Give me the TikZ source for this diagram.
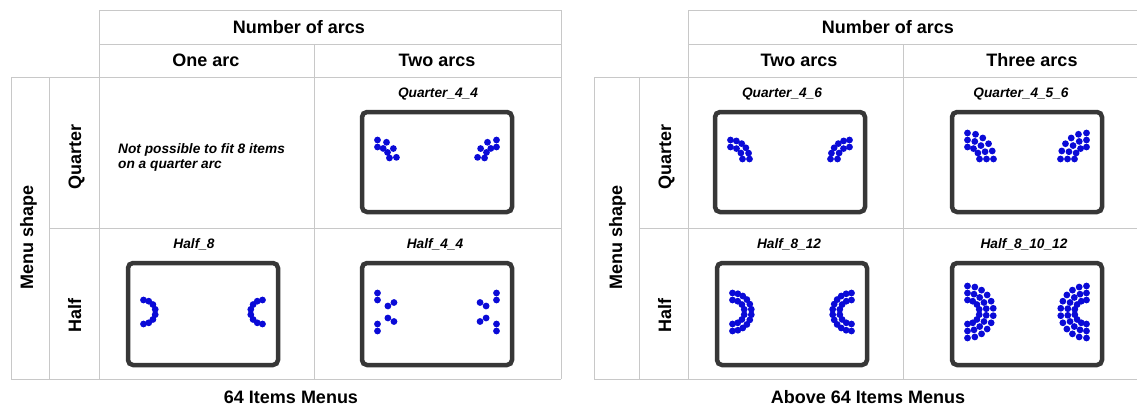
\documentclass[tikz,border=0pt]{standalone}
\usepackage{fontspec}
\setmainfont{Liberation Sans}
\usepackage{tikz}
\usetikzlibrary{positioning}
\definecolor{gridgray}{RGB}{200,200,200}
\definecolor{boxgray}{RGB}{55,55,55}
\definecolor{dotblue}{RGB}{10,10,215}
\tikzset{
  gridline/.style={draw=gridgray, line width=1pt},
  menubox/.style={draw=boxgray, line width=4.5pt, rounded corners=5pt},
  menudot/.style={fill=dotblue},
  headtext/.style={font=\bfseries\fontsize{18}{21}\selectfont},
  sidetext/.style={font=\bfseries\fontsize{18}{21}\selectfont, rotate=90, anchor=base},
  paneltext/.style={font=\bfseries\itshape\fontsize{13.7}{15}\selectfont, anchor=base}
}
% one arc of menu items: centre x, centre y, radius, items, first angle, last angle
\newcommand{\arcdots}[6]{%
  \foreach \i in {1,...,#4}{
    \pgfmathsetmacro{\ang}{#5+(\i-1)*(#6-#5)/(#4-1)}
    \fill[menudot] ({#1+#3*cos(\ang)},{#2-#3*sin(\ang)}) circle (3.4);
  }}

\begin{document}
\begin{tikzpicture}[x=1pt, y=-1pt]
  \useasboundingbox (0,0) rectangle (1137,410);

  % left table
  \draw[gridline] (99,10) -- (561,10);
  \draw[gridline] (99,44) -- (561,44);
  \draw[gridline] (11,77) -- (561,77);
  \draw[gridline] (49,228) -- (561,228);
  \draw[gridline] (11,379) -- (561,379);
  \foreach \x in {11,49} \draw[gridline] (\x,77) -- (\x,379);
  \foreach \x in {99,561} \draw[gridline] (\x,10) -- (\x,379);
  \draw[gridline] (314,44) -- (314,379);

  % right table
  \draw[gridline] (688,10) -- (1137,10);
  \draw[gridline] (688,44) -- (1137,44);
  \draw[gridline] (594,77) -- (1137,77);
  \draw[gridline] (639,228) -- (1137,228);
  \draw[gridline] (594,379) -- (1137,379);
  \foreach \x in {594,639} \draw[gridline] (\x,77) -- (\x,379);
  \draw[gridline] (688,10) -- (688,379);
  \draw[gridline] (903,44) -- (903,379);

  % headers
  \node[headtext] (numL) at (299,27) {Number of arcs};
  \node[headtext] (oneL) at (206,60) {One arc};
  \node[headtext] (twoL) at (437,60) {Two arcs};
  \node[sidetext] (shapeL) at (33,237) {Menu shape};
  \node[sidetext] (quarterL) at (81,157) {Quarter};
  \node[sidetext] (halfL) at (81,315) {Half};

  \node[headtext] (numR) at (888,27) {Number of arcs};
  \node[headtext] (twoR) at (799,60) {Two arcs};
  \node[headtext] (threeR) at (1032,60) {Three arcs};
  \node[sidetext] (shapeR) at (622,237) {Menu shape};
  \node[sidetext] (quarterR) at (671,157) {Quarter};
  \node[sidetext] (halfR) at (671,315) {Half};

  \node[headtext] (menus64) at (291,397) {64 Items Menus};
  \node[headtext] (menusabove) at (868,397) {Above 64 Items Menus};

  % one arc, quarter
  \node[paneltext, anchor=north west, align=left, inner sep=0pt] (notfit) at (118,143)
    {Not possible to fit 8 items\\on a quarter arc};

  % Quarter_4_4
  \node[paneltext] (q44) at (438,97) {Quarter\_4\_4};
  \draw[menubox] (362,112) rectangle (512,212);
  \arcdots{377.5}{159}{12}{4}{90}{5}
  \arcdots{377.5}{159}{19}{4}{90}{5}
  \arcdots{496.5}{159}{12}{4}{90}{175}
  \arcdots{496.5}{159}{19}{4}{90}{175}

  % Half_8
  \node[paneltext] (h8) at (194,248) {Half\_8};
  \draw[menubox] (128,263) rectangle (278,365);
  \arcdots{143.5}{312}{12}{8}{90}{-90}
  \arcdots{262.5}{312}{12}{8}{90}{270}

  % Half_4_4
  \node[paneltext] (h44) at (435,248) {Half\_4\_4};
  \draw[menubox] (362,263) rectangle (512,365);
  \arcdots{377.5}{312}{12}{4}{90}{-90}
  \arcdots{377.5}{312}{19}{4}{90}{-90}
  \arcdots{496.5}{312}{12}{4}{90}{270}
  \arcdots{496.5}{312}{19}{4}{90}{270}

  % Quarter_4_6
  \node[paneltext] (q46) at (782,97) {Quarter\_4\_6};
  \draw[menubox] (715,112) rectangle (865,212);
  \arcdots{730.5}{159}{12}{4}{90}{0}
  \arcdots{730.5}{159}{19}{6}{90}{0}
  \arcdots{849.5}{159}{12}{4}{90}{180}
  \arcdots{849.5}{159}{19}{6}{90}{180}

  % Quarter_4_5_6
  \node[paneltext] (q456) at (1021,97) {Quarter\_4\_5\_6};
  \draw[menubox] (952,112) rectangle (1102,212);
  \arcdots{967.5}{159}{12}{4}{90}{0}
  \arcdots{967.5}{159}{19}{5}{90}{0}
  \arcdots{967.5}{159}{26}{6}{90}{0}
  \arcdots{1086.5}{159}{12}{4}{90}{180}
  \arcdots{1086.5}{159}{19}{5}{90}{180}
  \arcdots{1086.5}{159}{26}{6}{90}{180}

  % Half_8_12
  \node[paneltext] (h812) at (789,248) {Half\_8\_12};
  \draw[menubox] (717,263) rectangle (867,365);
  \arcdots{732.5}{312}{12}{8}{90}{-90}
  \arcdots{732.5}{312}{19}{12}{90}{-90}
  \arcdots{851.5}{312}{12}{8}{90}{270}
  \arcdots{851.5}{312}{19}{12}{90}{270}

  % Half_8_10_12
  \node[paneltext] (h81012) at (1024,248) {Half\_8\_10\_12};
  \draw[menubox] (952,263) rectangle (1102,365);
  \arcdots{967.5}{312}{12}{8}{90}{-90}
  \arcdots{967.5}{312}{19}{10}{90}{-90}
  \arcdots{967.5}{312}{26}{12}{90}{-90}
  \arcdots{1086.5}{312}{12}{8}{90}{270}
  \arcdots{1086.5}{312}{19}{10}{90}{270}
  \arcdots{1086.5}{312}{26}{12}{90}{270}
\end{tikzpicture}
\end{document}
